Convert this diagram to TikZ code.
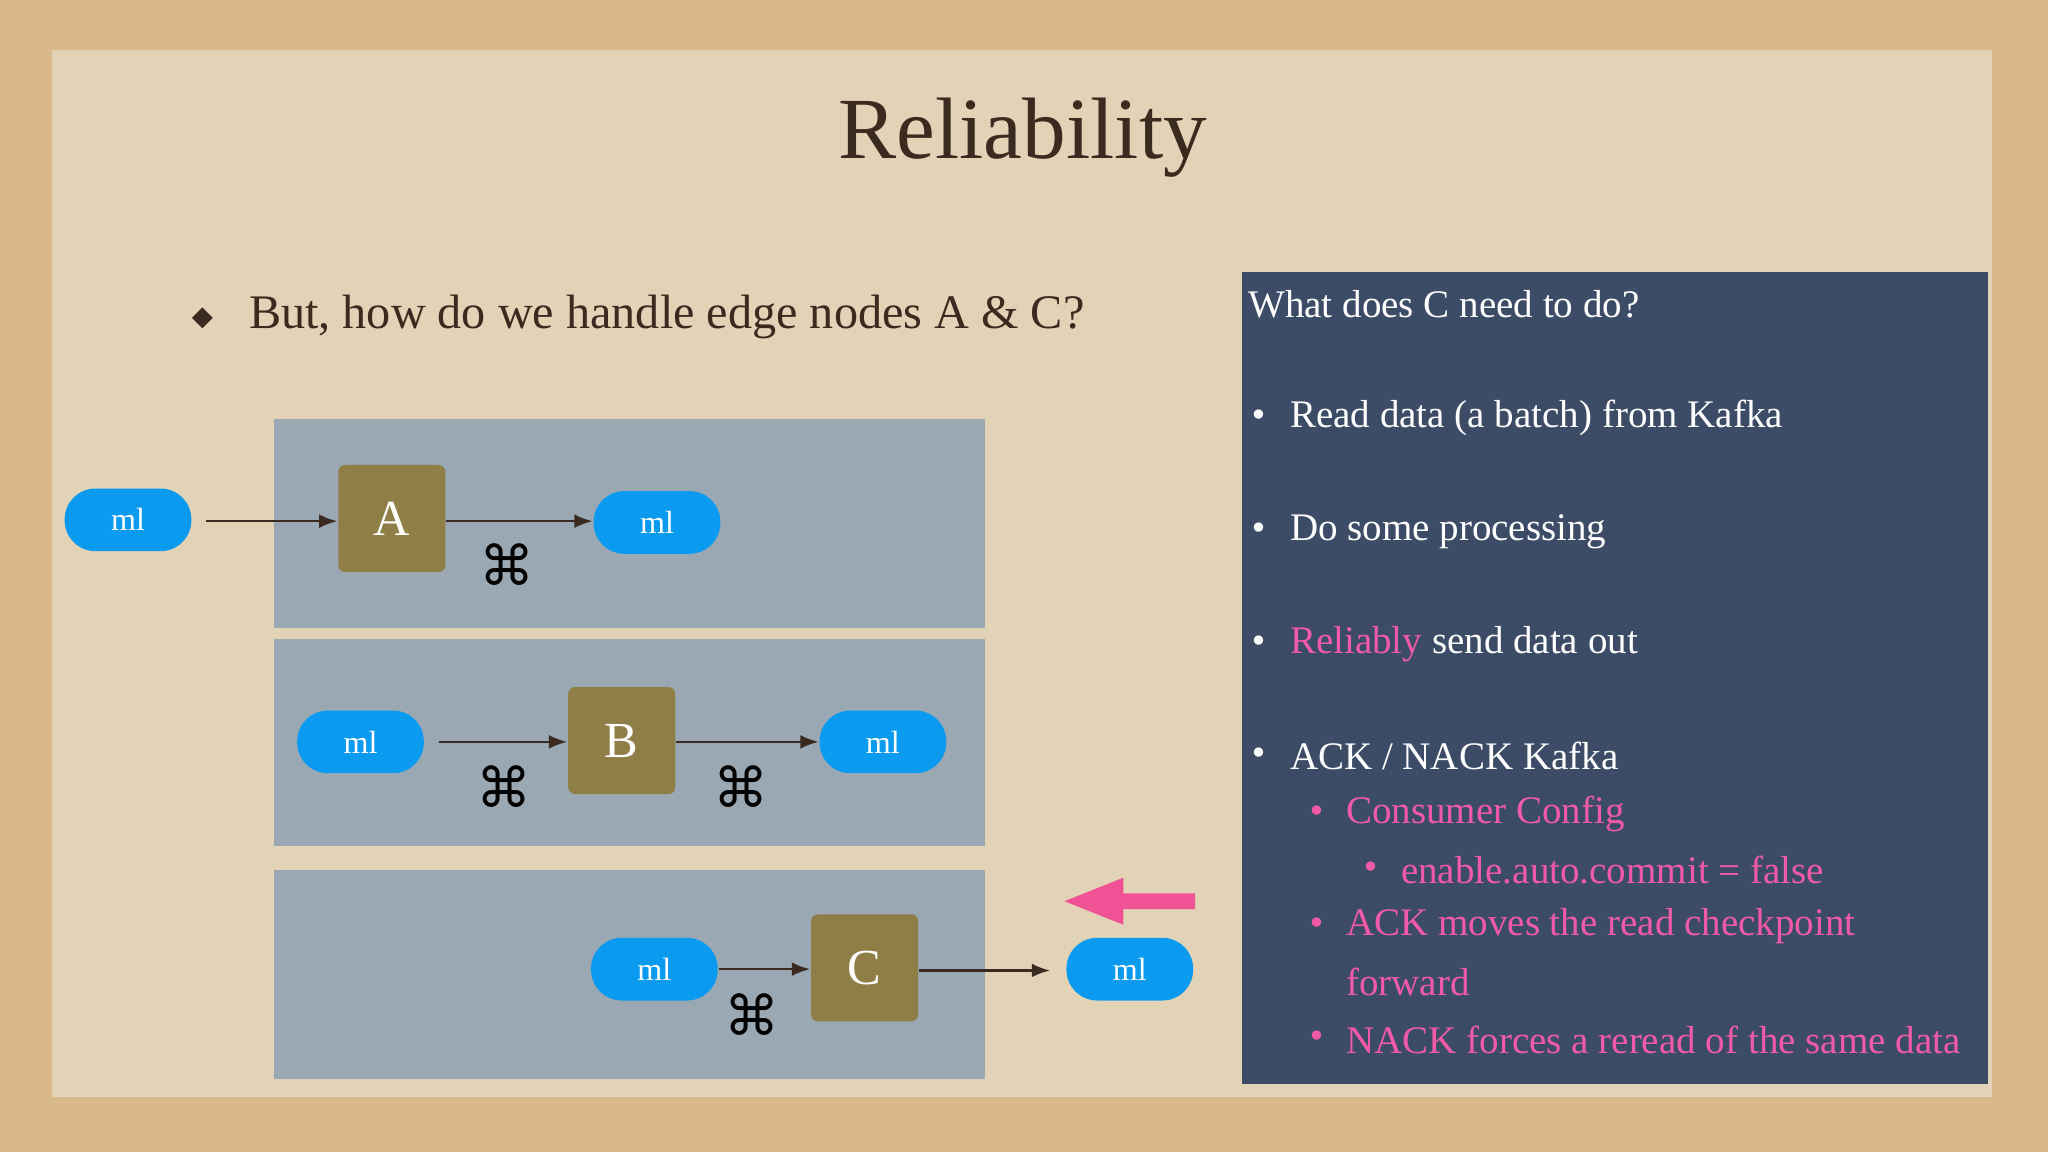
\documentclass[tikz,border=0pt]{standalone}
\usepackage{fontspec}
\setmainfont{Liberation Serif}
\newfontfamily\symf{DejaVu Sans}
\usetikzlibrary{arrows.meta}
\definecolor{bgtan}{HTML}{D9B98A}
\definecolor{paper}{HTML}{E3D3B6}
\definecolor{panel}{HTML}{9AA8B4}
\definecolor{mlblue}{HTML}{0A9BF0}
\definecolor{boxbrown}{HTML}{8F7E45}
\definecolor{dark}{HTML}{3D4C66}
\definecolor{pinkc}{HTML}{F05AA6}
\definecolor{ink}{HTML}{3A2A20}
\tikzset{
 x=0.1mm,y=-0.1mm,
 ml/.style={fill=mlblue,rounded corners=6.7pt,minimum width=9.7mm,minimum height=4.8mm,text=white,font=\fontsize{7}{8}\selectfont,inner sep=0pt},
 sq/.style={fill=boxbrown,rounded corners=1.5pt,minimum size=8.2mm,text=white,font=\fontsize{11}{12}\selectfont,inner sep=0pt},
 conn/.style={draw=ink,line width=0.5pt,-{Latex[length=4pt]}},
 kaf/.style={font=\symf\fontsize{12}{12}\selectfont,text=black,inner sep=0pt},
 rt/.style={anchor=west,text=white,font=\fontsize{8.5}{10}\selectfont,inner sep=0pt},
 pk/.style={rt,text=pinkc},
}
\begin{document}
\begin{tikzpicture}
\fill[bgtan] (0,0) rectangle (1568,882);
\fill[paper] (40,38) rectangle (1525,840);
\node[text=ink,font=\fontsize{19}{22}\selectfont] (title) at (783,105) {Reliability};
\node[text=ink,font=\symf\fontsize{6}{6}\selectfont] (dia) at (155,244) {◆};
\node[anchor=west,text=ink,font=\fontsize{10.5}{12}\selectfont,inner sep=0pt] (q) at (190,243) {But, how do we handle edge nodes A \& C?};
\fill[panel] (210,321) rectangle (754,481);
\fill[panel] (210,489) rectangle (754,648);
\fill[panel] (210,666) rectangle (754,826);
\node[ml] (m1) at (98,398) {ml};
\node[ml] (m2) at (503,400) {ml};
\node[ml] (m3) at (276,568) {ml};
\node[ml] (m4) at (676,568) {ml};
\node[ml] (m5) at (501,742) {ml};
\node[ml] (m6) at (865,742) {ml};
\node[sq] (A) at (300,397) {A};
\node[sq] (B) at (476,567) {B};
\node[sq] (C) at (662,741) {C};
\coordinate (a0) at (158,399);
\draw[conn] (a0) -- (A.west|-a0);
\draw[conn] (A.east|-a0) -- (m2.west|-a0);
\coordinate (b0) at (336,568);
\draw[conn] (b0) -- (B.west|-b0);
\draw[conn] (B.east|-b0) -- (m4.west|-b0);
\draw[conn] (m5.east) -- (C.west|-m5.east);
\coordinate (c1) at (804,743);
\draw[conn] (C.east|-c1) -- (c1);
\node[kaf] (k1) at (388,432) {⌘};
\node[kaf] (k2) at (386,602) {⌘};
\node[kaf] (k3) at (567,602) {⌘};
\node[kaf] (k4) at (576,777) {⌘};
\fill[pinkc!90!red] (915,684) -- (860,684) -- (860,672) -- (815,690) -- (860,708) -- (860,696) -- (915,696) -- cycle;
\fill[dark] (951,208) rectangle (1522,830);
\node[rt] (t0) at (955,233) {What does C need to do?};
\foreach \y/\t [count=\i] in {320/{Read data (a batch) from Kafka},407/{Do some processing},579/{ACK / NACK Kafka}}{
 \node[rt] (b\i) at (956,\y) {\symf\fontsize{7}{7}\selectfont•};
 \node[rt] (r\i) at (987,\y) {\t};}
\node[rt] (b4) at (956,493) {\symf\fontsize{7}{7}\selectfont•};
\node[rt] (r4) at (987,493) {\textcolor{pinkc}{Reliably} send data out};
\foreach \x/\y/\t [count=\i] in {1030/623/Consumer Config,1072/666/enable.auto.commit = false,1030/709/ACK moves the read checkpoint,1030/796/NACK forces a reread of the same data}{
 \node[pk] (sb\i) at (\x-30,\y) {\symf\fontsize{7}{7}\selectfont•};
 \node[pk] (s\i) at (\x,\y) {\t};}
\node[pk] (s5) at (1030,752) {forward};
\end{tikzpicture}
\end{document}
